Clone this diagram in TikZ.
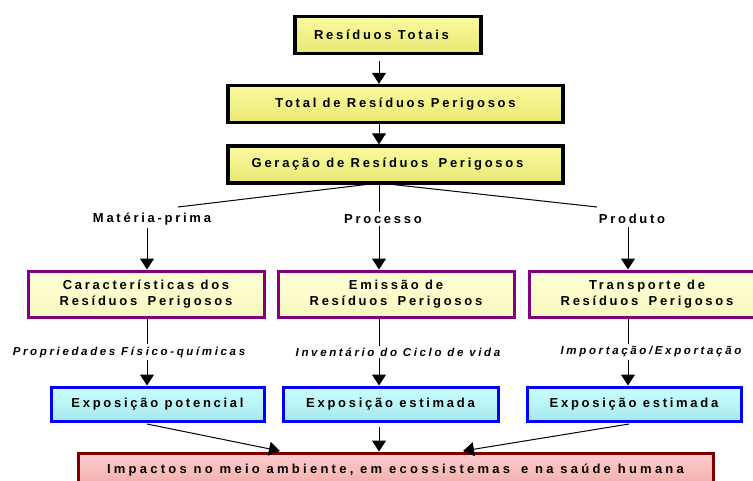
\documentclass[tikz,border=0pt]{standalone}
\usepackage{fontspec}
\setmainfont{Liberation Sans}
\newfontfamily\lsfont{Liberation Sans}[LetterSpace=21]
\newfontfamily\lsifont{Liberation Sans}[LetterSpace=23]
\newfontfamily\lswfont{Liberation Sans}[LetterSpace=25]
\usetikzlibrary{arrows.meta}
\definecolor{ylight}{RGB}{250,250,160}
\definecolor{ydark}{RGB}{232,232,115}
\definecolor{creamA}{RGB}{255,255,215}
\definecolor{creamB}{RGB}{248,248,190}
\definecolor{purp}{RGB}{128,0,128}
\definecolor{cyanA}{RGB}{205,255,255}
\definecolor{cyanB}{RGB}{165,232,238}
\definecolor{pinkA}{RGB}{255,205,205}
\definecolor{pinkB}{RGB}{242,172,172}
\definecolor{dred}{RGB}{128,0,0}
\begin{document}
\begin{tikzpicture}[x=1pt,y=-1pt,
  every node/.style={inner sep=0pt, font=\lsfont\bfseries\fontsize{13}{16}\selectfont},
  yelbox/.style={draw=black, line width=3.4pt, top color=ylight, bottom color=ydark, minimum height=37pt},
  purbox/.style={draw=purp, line width=3pt, top color=creamA, bottom color=creamB, minimum height=46pt, align=center},
  blubox/.style={draw=blue, line width=3pt, top color=cyanA, bottom color=cyanB, minimum height=34pt},
  redbox/.style={draw=dred, line width=3pt, top color=pinkA, bottom color=pinkB, minimum height=34pt, font=\lswfont\bfseries\fontsize{13}{16}\selectfont},
  lbl/.style={fill=white, inner sep=2pt},
  ilbl/.style={fill=white, inner sep=2pt, font=\lsifont\bfseries\itshape\fontsize{11.5}{13}\selectfont},
  arr/.style={line width=1pt, -{Triangle[width=14pt,length=11pt]}},
  ln/.style={line width=1pt}
]
\useasboundingbox (0,0) rectangle (753,480);

% top column
\node[yelbox, minimum width=186pt] (b1) at (388,35) {\hspace{-13pt}Resíduos Totais};
\node[yelbox, minimum width=335pt] (b2) at (395.5,104) {Total de Resíduos Perigosos};
\node[yelbox, minimum width=335pt] (b3) at (395.5,164.5) {\hspace{-16pt}Geração de Resíduos\hspace{4pt} Perigosos};

\coordinate (c1a) at (379,61);
\draw[arr] (c1a) -- (b2.north -| c1a);
\draw[arr] (b2.south -| c1a) -- (b3.north -| c1a);

% purple boxes
\node[purbox, minimum width=236pt] (p1) at (146,294) {Características dos\\Resíduos\hspace{4pt} Perigosos};
\node[purbox, minimum width=236pt] (p2) at (396,294) {Emissão de\\Resíduos\hspace{4pt} Perigosos};
\node[purbox, minimum width=236pt] (p3) at (647,294) {Transporte de\\Resíduos\hspace{4pt} Perigosos};

\coordinate (bl) at (178,207);
\coordinate (br) at (597,207);
\coordinate (c3) at (379,183);
\coordinate (xl) at (147,0);
\coordinate (xr) at (628,0);
\draw[ln] (c3) -- (bl);
\draw[ln] (c3) -- (br);
\draw[arr] (c3) -- (p2.north -| c3);

% branch labels
\node[lbl] (mp) at (152,219) {Matéria-prima};
\node[lbl] (pr) at (383,219) {Processo};
\node[lbl] (pd) at (632,219) {Produto};

\draw[arr] (mp.south -| xl) ++(0,1) -- (p1.north -| xl);
\draw[arr] (pd.south -| xr) ++(0,1) -- (p3.north -| xr);

% italic labels
\node[ilbl] (i1) at (129,352) {Propriedades Físico-químicas};
\node[ilbl] (i2) at (398,352) {Inventário do Ciclo de vida};
\node[ilbl] (i3) at (651,352) {Importação/Exportação};

% blue boxes
\node[blubox, minimum width=213pt] (e1) at (157.5,404) {Exposição potencial};
\node[blubox, minimum width=215pt] (e2) at (390.5,404) {Exposição estimada};
\node[blubox, minimum width=214pt] (e3) at (634,404) {Exposição estimada};

\draw[ln] (p1.south -| xl) -- (i1.north -| xl);
\draw[arr] (i1.south -| xl) -- (e1.north -| xl);
\draw[ln] (p2.south -| c3) -- (i2.north -| c3);
\draw[arr] (i2.south -| c3) -- (e2.north -| c3);
\draw[ln] (p3.south -| xr) -- (i3.north -| xr);
\draw[arr] (i3.south -| xr) -- (e3.north -| xr);

% impact box
\node[redbox, minimum width=635pt] (im) at (395.5,470) {Impactos no meio ambiente, em ecossistemas\hspace{4pt} e na saúde humana};

\coordinate (s1) at (147,424);
\coordinate (s3) at (629,424);
\coordinate (t1) at (280,451);
\coordinate (t3) at (463,451);
\draw[arr] (s1) -- (t1);
\draw[arr] (e2.south -| c3) ++(0,4) -- (im.north -| c3);
\draw[arr] (s3) -- (t3);
\end{tikzpicture}
\end{document}
